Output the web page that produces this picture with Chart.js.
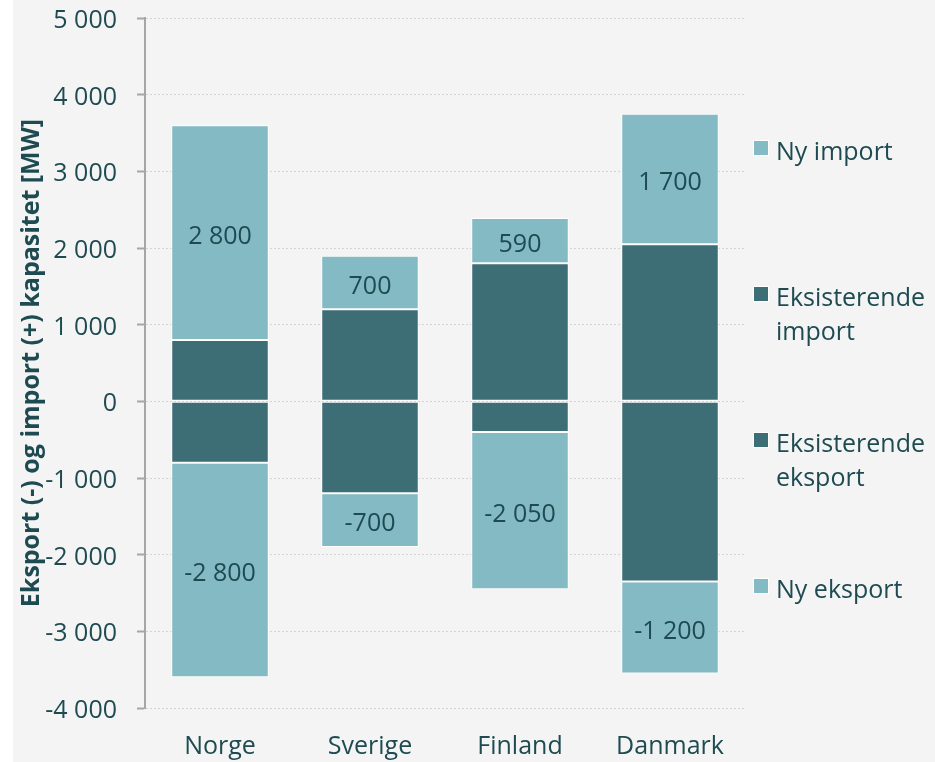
<!DOCTYPE html>
<html lang="no">
<head>
<meta charset="UTF-8">
<title>Eksport og import kapasitet</title>
<script src="https://cdn.jsdelivr.net/npm/chart.js@4.4.0/dist/chart.umd.min.js"></script>
<style>
body { margin:0; background:#ffffff; }
#wrap { position:absolute; left:13px; top:0; width:922px; height:762px; background:#f4f4f4; }
</style>
</head>
<body>
<div id="wrap"><canvas id="k_chart" width="922" height="762"></canvas></div>
<script>
// data
const land = ['Norge', 'Sverige', 'Finland', 'Danmark'];
const nyImport = [2800, 700, 590, 1700];
const eksImport = [800, 1200, 1800, 2050];
const eksEksport = [-800, -1200, -400, -2350];
const nyEksport = [-2800, -700, -2050, -1200];
const yMin = -4000, yMax = 5000, yStep = 1000;

const lys = '#83bac4';
const mork = '#3e6e75';
const tekst = '#1e4b51';
const FONT = '"Open Sans", sans-serif';

function fmt(v) {
	const s = Math.abs(v).toString().replace(/\B(?=(\d{3})+(?!\d))/g, ' ');
	return (v < 0 ? '-' : '') + s;
}

// verdier midt i "ny" segmentene
const labelPlugin = {
	id: 'segLabels',
	afterDatasetsDraw(chart) {
		const ctx = chart.ctx;
		ctx.save();
		ctx.font = '25px ' + FONT;
		ctx.fillStyle = tekst;
		ctx.textAlign = 'center';
		ctx.textBaseline = 'middle';
		chart.data.datasets.forEach((ds, i) => {
			if (!ds.showLabel) return;
			chart.getDatasetMeta(i).data.forEach((bar, j) => {
				ctx.fillText(fmt(ds.data[j]), bar.x, (bar.y + bar.base) / 2 + 4);
			});
		});
		ctx.restore();
	}
};

// legend til hoyre, en linje per rad
const legendItems = [
	{ lines: ['Ny import'], color: lys, y: 160 },
	{ lines: ['Eksisterende', 'import'], color: mork, y: 306 },
	{ lines: ['Eksisterende', 'eksport'], color: mork, y: 452 },
	{ lines: ['Ny eksport'], color: lys, y: 598 }
];
const legendPlugin = {
	id: 'sideLegend',
	afterDraw(chart) {
		const ctx = chart.ctx;
		const x0 = chart.chartArea.right + 9;
		ctx.save();
		ctx.font = '25px ' + FONT;
		ctx.textBaseline = 'alphabetic';
		ctx.textAlign = 'left';
		legendItems.forEach(it => {
			ctx.fillStyle = '#ffffff';
			ctx.fillRect(x0 - 1, it.y - 20, 16, 16);
			ctx.fillStyle = it.color;
			ctx.fillRect(x0, it.y - 19, 14, 14);
			ctx.fillStyle = tekst;
			it.lines.forEach((ln, k) => ctx.fillText(ln, x0 + 22, it.y + k * 34));
		});
		ctx.restore();
	}
};

const kChart = new Chart(document.getElementById('k_chart'), {
	type: 'bar',
	data: {
		labels: land,
		datasets: [
			{ label: 'Eksisterende import', data: eksImport, backgroundColor: mork },
			{ label: 'Ny import', data: nyImport, backgroundColor: lys, showLabel: true },
			{ label: 'Eksisterende eksport', data: eksEksport, backgroundColor: mork },
			{ label: 'Ny eksport', data: nyEksport, backgroundColor: lys, showLabel: true }
		]
	},
	options: {
		responsive: false,
		animation: false,
		layout: { padding: { top: 18, right: 190, left: 0, bottom: 0 } },
		datasets: {
			bar: {
				borderColor: '#ffffff',
				borderWidth: 1,
				borderSkipped: false,
				categoryPercentage: 1,
				barPercentage: 0.65
			}
		},
		plugins: {
			legend: { display: false },
			tooltip: { enabled: false }
		},
		scales: {
			x: {
				stacked: true,
				grid: { display: false, drawTicks: false },
				border: { display: false },
				ticks: { color: tekst, font: { family: FONT, size: 25 }, padding: 24 },
				afterFit(s) { s.height = 54; }
			},
			y: {
				stacked: true,
				min: yMin,
				max: yMax,
				ticks: {
					stepSize: yStep,
					color: tekst,
					font: { family: FONT, size: 25 },
					padding: 20,
					labelOffset: 3,
					callback: v => fmt(v)
				},
				grid: {
					color: '#d4d4d4',
					lineWidth: 1,
					borderDash: [2, 2],
					tickLength: 8,
					tickColor: '#a6a6a6',
					tickWidth: 2,
					tickBorderDash: []
				},
				border: { display: true, color: '#a6a6a6', width: 2, dash: [2, 2] },
				title: {
					display: true,
					text: 'Eksport (-) og import (+) kapasitet [MW]',
					color: tekst,
					font: { family: FONT, size: 25, weight: 'bold' },
					padding: { top: 4, bottom: 0 }
				},
				afterFit(s) {
					s.width = 132;
					s.paddingTop = 0;
					s.paddingBottom = 0;
				}
			}
		}
	},
	plugins: [labelPlugin, legendPlugin]
});
</script>
</body>
</html>
